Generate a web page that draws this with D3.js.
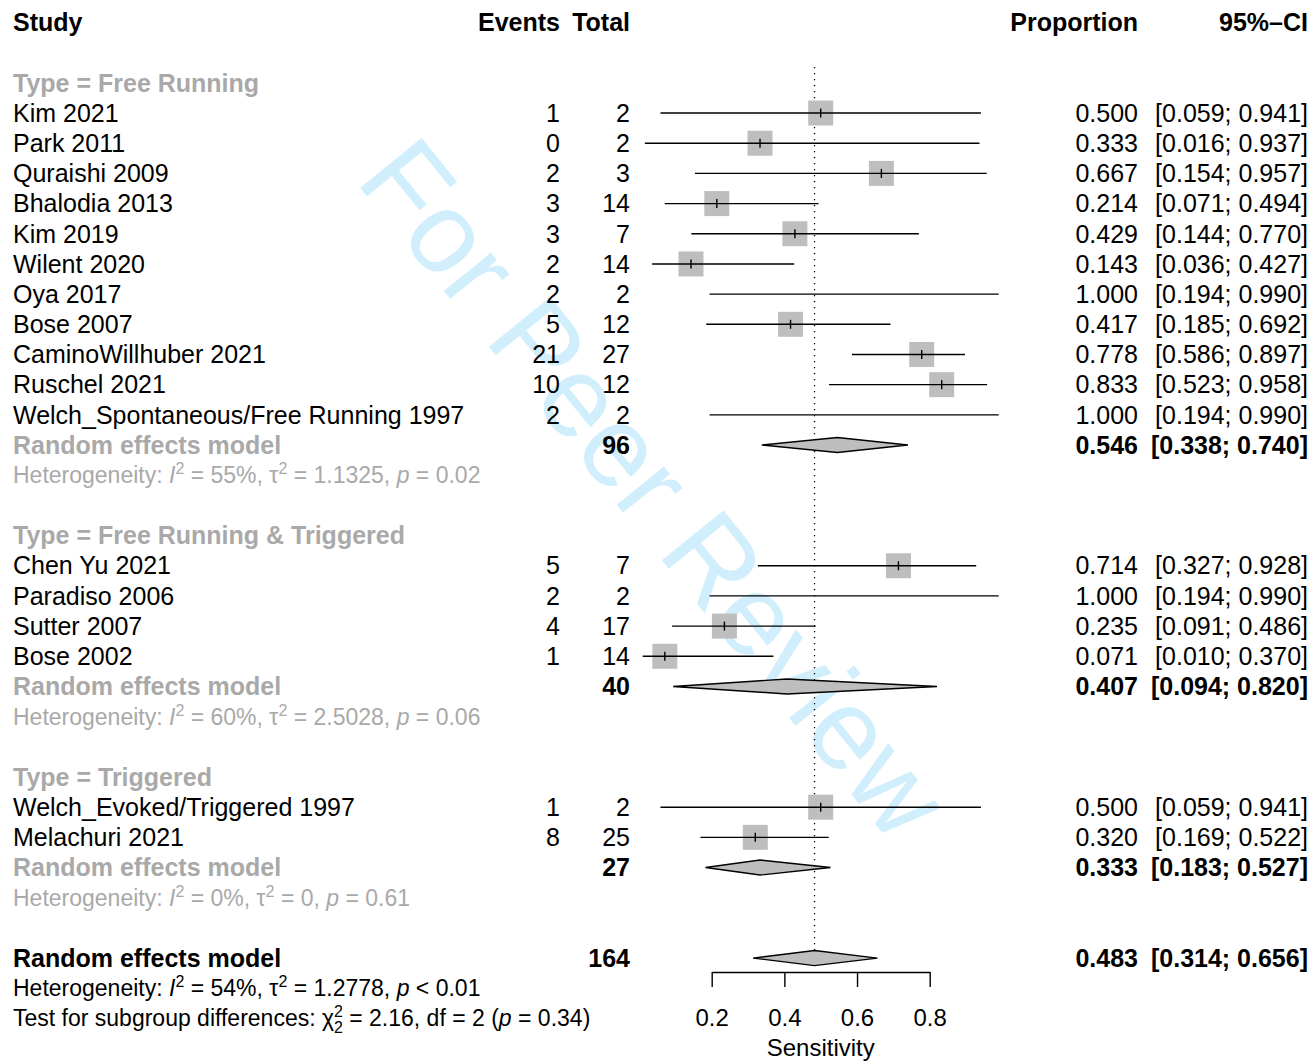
<!DOCTYPE html>
<html>
<head>
<meta charset="utf-8">
<script src="https://cdn.jsdelivr.net/npm/d3@7"></script>
<style>
  body { margin: 0; background: #fff; }
  text { font-family: "Liberation Sans", Arial, Helvetica, sans-serif; font-size: 25px; }
  text.small { font-size: 23px; }
</style>
</head>
<body>
<svg id="viz-container" width="1311" height="1061"></svg>
<script>
// study level data
var studies = ["Kim 2021", "Park 2011", "Quraishi 2009", "Bhalodia 2013", "Kim 2019", "Wilent 2020",
  "Oya 2017", "Bose 2007", "CaminoWillhuber 2021", "Ruschel 2021", "Welch_Spontaneous/Free Running 1997",
  "Chen Yu 2021", "Paradiso 2006", "Sutter 2007", "Bose 2002",
  "Welch_Evoked/Triggered 1997", "Melachuri 2021"];
var events = [1, 0, 2, 3, 3, 2, 2, 5, 21, 10, 2, 5, 2, 4, 1, 1, 8];
var totals = [2, 2, 3, 14, 7, 14, 2, 12, 27, 12, 2, 7, 2, 17, 14, 2, 25];
var props  = [0.500, 0.333, 0.667, 0.214, 0.429, 0.143, 1.000, 0.417, 0.778, 0.833, 1.000,
  0.714, 1.000, 0.235, 0.071, 0.500, 0.320];
var lower  = [0.059, 0.016, 0.154, 0.071, 0.144, 0.036, 0.194, 0.185, 0.586, 0.523, 0.194,
  0.327, 0.194, 0.091, 0.010, 0.059, 0.169];
var upper  = [0.941, 0.937, 0.957, 0.494, 0.770, 0.427, 0.990, 0.692, 0.897, 0.958, 0.990,
  0.928, 0.990, 0.486, 0.370, 0.941, 0.522];
var studyGroup = [0,0,0,0,0,0,0,0,0,0,0, 1,1,1,1, 2,2];

// subgroup data
var groupNames = ["Free Running", "Free Running & Triggered", "Triggered"];
var groupTotals = [96, 40, 27];
var groupEst = [0.546, 0.407, 0.333];
var groupLo  = [0.338, 0.094, 0.183];
var groupHi  = [0.740, 0.820, 0.527];
var groupI2  = ["55%", "60%", "0%"];
var groupTau2 = ["1.1325", "2.5028", "0"];
var groupP   = ["= 0.02", "= 0.06", "= 0.61"];

// overall
var overallTotal = 164, overallEst = 0.483, overallLo = 0.314, overallHi = 0.656;
var overallI2 = "54%", overallTau2 = "1.2778", overallP = "< 0.01";
var subgroupTest = {chi: "2.16", df: "2", p: "0.34"};

var axisTicks = [0.2, 0.4, 0.6, 0.8];

var svg = d3.select("#viz-container");
var grey = "#a9a9a9", boxGrey = "#bebebe";

var row_y = function(r) { return 22.5 + r * 30.18; };
var x = d3.scaleLinear().domain([0.2, 0.8]).range([711.7, 929.7]);

var col_study = 13, col_events = 560, col_total = 630, col_prop = 1138, col_ci = 1308;
var fmt = d3.format(".3f");

// watermark behind everything
svg.append("text")
  .attr("transform", "translate(655,488) rotate(51)")
  .attr("text-anchor", "middle")
  .attr("dy", "0.35em")
  .style("font-size", "115px")
  .style("fill", "#d0eefb")
  .text("For Peer Review");

// headers
var header = svg.append("g").style("font-weight", "bold");
header.append("text").attr("x", col_study).attr("y", row_y(0)).attr("dy", "0.35em").text("Study");
header.append("text").attr("x", col_events).attr("y", row_y(0)).attr("dy", "0.35em").attr("text-anchor", "end").text("Events");
header.append("text").attr("x", col_total).attr("y", row_y(0)).attr("dy", "0.35em").attr("text-anchor", "end").text("Total");
header.append("text").attr("x", col_prop).attr("y", row_y(0)).attr("dy", "0.35em").attr("text-anchor", "end").text("Proportion");
header.append("text").attr("x", col_ci).attr("y", row_y(0)).attr("dy", "0.35em").attr("text-anchor", "end").text("95%\u2013CI");

// build row layout
var rows = [];
var r = 2;
groupNames.forEach(function(g, gi) {
  rows.push({type: "group", row: r++, gi: gi});
  studies.forEach(function(s, i) {
    if (studyGroup[i] === gi) rows.push({type: "study", row: r++, i: i});
  });
  rows.push({type: "gmodel", row: r++, gi: gi});
  rows.push({type: "ghet", row: r++, gi: gi});
  r++;
});
var overallRow = r;

function ciText(lo, hi) { return "[" + fmt(lo) + "; " + fmt(hi) + "]"; }

function hetText(sel, i2, tau2, p) {
  sel.append("tspan").text("Heterogeneity: ");
  sel.append("tspan").style("font-style", "italic").text("I");
  sel.append("tspan").attr("dy", -9).style("font-size", "16px").text("2");
  sel.append("tspan").attr("dy", 9).text(" = " + i2 + ", \u03c4");
  sel.append("tspan").attr("dy", -9).style("font-size", "16px").text("2");
  sel.append("tspan").attr("dy", 9).text(" = " + tau2 + ", ");
  sel.append("tspan").style("font-style", "italic").text("p");
  sel.append("tspan").text(" " + p);
}

function diamond(g, y, est, lo, hi) {
  g.append("path")
    .attr("d", "M" + x(lo) + "," + y + "L" + x(est) + "," + (y - 7.5) + "L" + x(hi) + "," + y + "L" + x(est) + "," + (y + 7.5) + "Z")
    .style("fill", boxGrey)
    .style("stroke", "#000")
    .style("stroke-width", 1.4);
}

// reference line
svg.append("line")
  .attr("x1", x(overallEst)).attr("x2", x(overallEst))
  .attr("y1", 67).attr("y2", row_y(overallRow) - 7)
  .style("stroke", "#000").style("stroke-width", 1.3)
  .style("stroke-dasharray", "1.3,4.7");

var body = svg.append("g");

rows.forEach(function(d) {
  var y = row_y(d.row);
  if (d.type === "group") {
    body.append("text").attr("x", col_study).attr("y", y).attr("dy", "0.35em")
      .style("font-weight", "bold").style("fill", grey)
      .text("Type = " + groupNames[d.gi]);
  } else if (d.type === "study") {
    var i = d.i;
    body.append("text").attr("x", col_study).attr("y", y).attr("dy", "0.35em").text(studies[i]);
    body.append("text").attr("x", col_events).attr("y", y).attr("dy", "0.35em").attr("text-anchor", "end").text(events[i]);
    body.append("text").attr("x", col_total).attr("y", y).attr("dy", "0.35em").attr("text-anchor", "end").text(totals[i]);
    body.append("text").attr("x", col_prop).attr("y", y).attr("dy", "0.35em").attr("text-anchor", "end").text(fmt(props[i]));
    body.append("text").attr("x", col_ci).attr("y", y).attr("dy", "0.35em").attr("text-anchor", "end").text(ciText(lower[i], upper[i]));
    // square only when the estimate sits inside the plotted CI
    if (props[i] <= upper[i]) {
      body.append("rect")
        .attr("x", x(props[i]) - 12.5).attr("y", y - 12.5)
        .attr("width", 25).attr("height", 25)
        .style("fill", boxGrey);
    }
    body.append("line")
      .attr("x1", x(lower[i])).attr("x2", x(upper[i]))
      .attr("y1", y).attr("y2", y)
      .style("stroke", "#000").style("stroke-width", 1.4);
    if (props[i] <= upper[i]) {
      body.append("line")
        .attr("x1", x(props[i])).attr("x2", x(props[i]))
        .attr("y1", y - 4.5).attr("y2", y + 4.5)
        .style("stroke", "#000").style("stroke-width", 1.4);
    }
  } else if (d.type === "gmodel") {
    var gi = d.gi;
    body.append("text").attr("x", col_study).attr("y", y).attr("dy", "0.35em")
      .style("font-weight", "bold").style("fill", grey).text("Random effects model");
    body.append("text").attr("x", col_total).attr("y", y).attr("dy", "0.35em").attr("text-anchor", "end")
      .style("font-weight", "bold").text(groupTotals[gi]);
    body.append("text").attr("x", col_prop).attr("y", y).attr("dy", "0.35em").attr("text-anchor", "end")
      .style("font-weight", "bold").text(fmt(groupEst[gi]));
    body.append("text").attr("x", col_ci).attr("y", y).attr("dy", "0.35em").attr("text-anchor", "end")
      .style("font-weight", "bold").text(ciText(groupLo[gi], groupHi[gi]));
    diamond(body, y, groupEst[gi], groupLo[gi], groupHi[gi]);
  } else if (d.type === "ghet") {
    var t = body.append("text").attr("class", "small").attr("x", col_study).attr("y", y).attr("dy", "0.35em").style("fill", grey);
    hetText(t, groupI2[d.gi], groupTau2[d.gi], groupP[d.gi]);
  }
});

// overall model
var yo = row_y(overallRow);
var overall = svg.append("g");
overall.append("text").attr("x", col_study).attr("y", yo).attr("dy", "0.35em")
  .style("font-weight", "bold").text("Random effects model");
overall.append("text").attr("x", col_total).attr("y", yo).attr("dy", "0.35em").attr("text-anchor", "end")
  .style("font-weight", "bold").text(overallTotal);
overall.append("text").attr("x", col_prop).attr("y", yo).attr("dy", "0.35em").attr("text-anchor", "end")
  .style("font-weight", "bold").text(fmt(overallEst));
overall.append("text").attr("x", col_ci).attr("y", yo).attr("dy", "0.35em").attr("text-anchor", "end")
  .style("font-weight", "bold").text(ciText(overallLo, overallHi));
diamond(overall, yo, overallEst, overallLo, overallHi);

var het = overall.append("text").attr("class", "small").attr("x", col_study).attr("y", row_y(overallRow + 1)).attr("dy", "0.35em");
hetText(het, overallI2, overallTau2, overallP);

var test = overall.append("text").attr("class", "small").attr("x", col_study).attr("y", row_y(overallRow + 2)).attr("dy", "0.35em");
test.append("tspan").text("Test for subgroup differences: \u03c7");
test.append("tspan").attr("dy", -9).style("font-size", "16px").text("2");
test.append("tspan").attr("dx", -9).attr("dy", 16).style("font-size", "16px").text(subgroupTest.df);
test.append("tspan").attr("dy", -7).text(" = " + subgroupTest.chi + ", df = " + subgroupTest.df + " (");
test.append("tspan").style("font-style", "italic").text("p");
test.append("tspan").text(" = " + subgroupTest.p + ")");

// axis
var axis = svg.append("g")
  .attr("transform", "translate(0,972)")
  .call(d3.axisBottom(x).tickValues(axisTicks).tickSize(15).tickSizeOuter(0).tickPadding(22)
    .tickFormat(d3.format(".1f")));
axis.select(".domain").style("stroke-width", 1.4);
axis.selectAll(".tick line").style("stroke-width", 1.4);
axis.selectAll(".tick text").style("font-size", "24px").style("font-family", "'Liberation Sans', Arial, sans-serif");

svg.append("text")
  .attr("x", x(0.5)).attr("y", 1048).attr("dy", "0.35em")
  .attr("text-anchor", "middle")
  .style("font-size", "24px")
  .text("Sensitivity");
</script>
</body>
</html>
